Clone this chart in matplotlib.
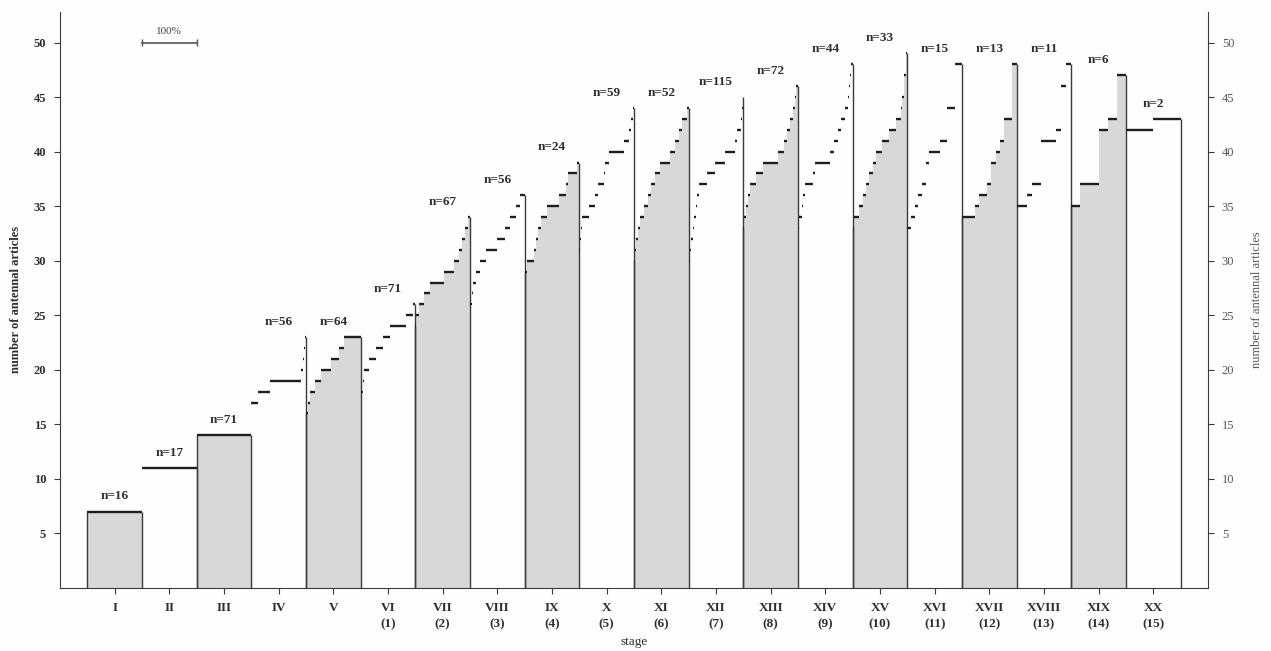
import numpy as np
import matplotlib
matplotlib.use("Agg")
import matplotlib.pyplot as plt

plt.rcParams['font.family'] = ['Liberation Serif', 'DejaVu Serif']

# ---------------- data ----------------
stage_labels = ["I", "II", "III", "IV", "V", "VI", "VII", "VIII", "IX", "X",
                "XI", "XII", "XIII", "XIV", "XV", "XVI", "XVII", "XVIII", "XIX", "XX"]
stage_numbers = ["", "", "", "", "", "(1)", "(2)", "(3)", "(4)", "(5)",
                 "(6)", "(7)", "(8)", "(9)", "(10)", "(11)", "(12)", "(13)", "(14)", "(15)"]
n_labels = [16, 17, 71, 56, 64, 71, 67, 56, 24, 59, 52, 115, 72, 44, 33, 15, 13, 11, 6, 2]

# number of antennal articles (sorted) and number of specimens with that count
art_I = [7];  cnt_I = [16]
art_II = [11];  cnt_II = [17]
art_III = [14];  cnt_III = [71]
art_IV = [17, 18, 19, 20, 21, 22, 23];  cnt_IV = [7, 12, 32, 2, 1, 1, 1]
art_V = [16, 17, 18, 19, 20, 21, 22, 23];  cnt_V = [2, 3, 5, 7, 12, 10, 5, 20]
art_VI = [18, 19, 20, 21, 22, 23, 24, 25, 26];  cnt_VI = [3, 2, 6, 9, 9, 9, 21, 9, 3]
art_VII = [24, 25, 26, 27, 28, 29, 30, 31, 32, 33, 34];  cnt_VII = [1, 4, 6, 7, 17, 13, 5, 4, 4, 3, 3]
art_VIII = [26, 27, 28, 29, 30, 31, 32, 33, 34, 35, 36];  cnt_VIII = [2, 1, 3, 4, 6, 12, 8, 5, 6, 4, 5]
art_IX = [29, 30, 31, 32, 33, 34, 35, 36, 37, 38, 39];  cnt_IX = [1, 3, 1, 1, 1, 3, 5, 3, 1, 4, 1]
art_X = [31, 32, 33, 34, 35, 36, 37, 38, 39, 40, 41, 42, 43, 44];  cnt_X = [1, 1, 1, 7, 7, 3, 7, 1, 4, 16, 6, 2, 2, 1]
art_XI = [30, 31, 32, 33, 34, 35, 36, 37, 38, 39, 40, 41, 42, 43, 44];  cnt_XI = [1, 1, 2, 2, 4, 3, 3, 4, 5, 9, 5, 4, 3, 4, 2]
art_XII = [29, 30, 31, 32, 33, 34, 35, 36, 37, 38, 39, 40, 41, 42, 43, 44, 45];  cnt_XII = [1, 2, 3, 3, 3, 3, 3, 3, 17, 17, 21, 21, 5, 8, 2, 2, 1]
art_XIII = [33, 34, 35, 36, 37, 38, 39, 40, 41, 42, 43, 44, 45, 46];  cnt_XIII = [1, 2, 3, 3, 8, 9, 20, 7, 4, 5, 4, 2, 2, 2]
art_XIV = [33, 34, 35, 36, 37, 38, 39, 40, 41, 42, 43, 44, 45, 46, 47, 48];  cnt_XIV = [1, 2, 1, 2, 6, 2, 12, 3, 3, 3, 3, 2, 1, 1, 1, 1]
art_XV = [33, 34, 35, 36, 37, 38, 39, 40, 41, 42, 43, 44, 45, 47, 49];  cnt_XV = [1, 3, 2, 2, 2, 2, 2, 4, 4, 4, 3, 1, 1, 1, 1]
art_XVI = [33, 34, 35, 36, 37, 39, 40, 41, 44, 48];  cnt_XVI = [1, 1, 1, 1, 1, 1, 3, 2, 2, 2]
art_XVII = [34, 35, 36, 37, 39, 40, 41, 43, 48];  cnt_XVII = [3, 1, 2, 1, 1, 1, 1, 2, 1]
art_XVIII = [35, 36, 37, 41, 42, 46, 48];  cnt_XVIII = [2, 1, 2, 3, 1, 1, 1]
art_XIX = [35, 37, 42, 43, 47];  cnt_XIX = [1, 2, 1, 1, 1]
art_XX = [42, 43];  cnt_XX = [1, 1]

articles = [art_I, art_II, art_III, art_IV, art_V, art_VI, art_VII, art_VIII, art_IX, art_X,
            art_XI, art_XII, art_XIII, art_XIV, art_XV, art_XVI, art_XVII, art_XVIII, art_XIX, art_XX]
counts = [cnt_I, cnt_II, cnt_III, cnt_IV, cnt_V, cnt_VI, cnt_VII, cnt_VIII, cnt_IX, cnt_X,
          cnt_XI, cnt_XII, cnt_XIII, cnt_XIV, cnt_XV, cnt_XVI, cnt_XVII, cnt_XVIII, cnt_XIX, cnt_XX]

y_ticks = [5, 10, 15, 20, 25, 30, 35, 40, 45, 50]

# ---------------- figure ----------------
text_col = '#2e2e2e'
line_col = '#3a3a3a'
fill_col = '#d8d8d8'

fig = plt.figure(figsize=(12.71, 6.51), dpi=100)
fig.patch.set_facecolor('#fefefc')
ax = fig.add_axes([0.0472, 0.0968, 0.9032, 0.8848])
ax.set_facecolor('#fefefc')
ax.set_xlim(0, 21)
ax.set_ylim(0, 52.8)

for k, (vals, cnts) in enumerate(zip(articles, counts)):
    pos = k + 1
    vals = np.asarray(vals, float)
    cnts = np.asarray(cnts, float)
    edges = pos - 0.5 + np.concatenate([[0.0], np.cumsum(cnts) / cnts.sum()])
    if k % 2 == 0:
        ax.fill_between(edges, np.append(vals, vals[-1]), 0, step='post',
                        color=fill_col, lw=0, zorder=1)
        ax.vlines(edges[0], 0, vals[0], color=line_col, lw=1.0, zorder=3)
    ax.hlines(vals, edges[:-1], edges[1:], color='#1e1e1e', lw=1.7, zorder=4)
    ax.vlines(edges[-1], 0, vals.max(), color=line_col, lw=1.0, zorder=3)
    ax.text(pos, vals.max() + 1.4, f"n={n_labels[k]}", ha='center', va='center',
            fontsize=9.5, fontweight='bold', color=text_col)

# 100% scale bar
ax.plot([1.5, 2.5], [50, 50], color='#555555', lw=1.2)
ax.vlines([1.5, 2.5], 49.65, 50.35, color='#555555', lw=1.0)
ax.text(2.0, 51.0, "100%", ha='center', va='center', fontsize=8, color='#444444')

# axes styling
for s in ['top', 'right']:
    ax.spines[s].set_visible(False)
ax.spines['left'].set_color(line_col)
ax.spines['bottom'].set_color(line_col)

ax.set_xticks(range(1, 21))
ax.set_xticklabels([s if not n else f"{s}\n{n}" for s, n in zip(stage_labels, stage_numbers)],
                   fontsize=9.5, fontweight='bold', color=text_col, linespacing=1.5)
ax.tick_params(axis='x', direction='out', length=4, width=0.8, color=line_col, pad=6)

ax.set_yticks(y_ticks)
ax.set_yticklabels([str(t) for t in y_ticks], fontsize=9, fontweight='bold', color=text_col)
ax.tick_params(axis='y', direction='out', length=4, width=0.8, color=line_col, pad=6)
ax.set_ylabel("number of antennal articles", fontsize=9, fontweight='bold', color=text_col, labelpad=8)
ax.set_xlabel("stage", fontsize=9.5, color=text_col, labelpad=4)

ax2 = ax.twinx()
ax2.set_ylim(ax.get_ylim())
for s in ['top', 'left', 'bottom']:
    ax2.spines[s].set_visible(False)
ax2.spines['right'].set_color(line_col)
ax2.set_yticks(y_ticks)
ax2.set_yticklabels([str(t) for t in y_ticks], fontsize=9, color='#555555')
ax2.tick_params(axis='y', direction='out', length=4, width=0.8, color=line_col, pad=6)
ax2.set_ylabel("number of antennal articles", fontsize=9, color='#555555', rotation=90, labelpad=12)

fig.savefig("out.png", dpi=100, facecolor=fig.get_facecolor())
